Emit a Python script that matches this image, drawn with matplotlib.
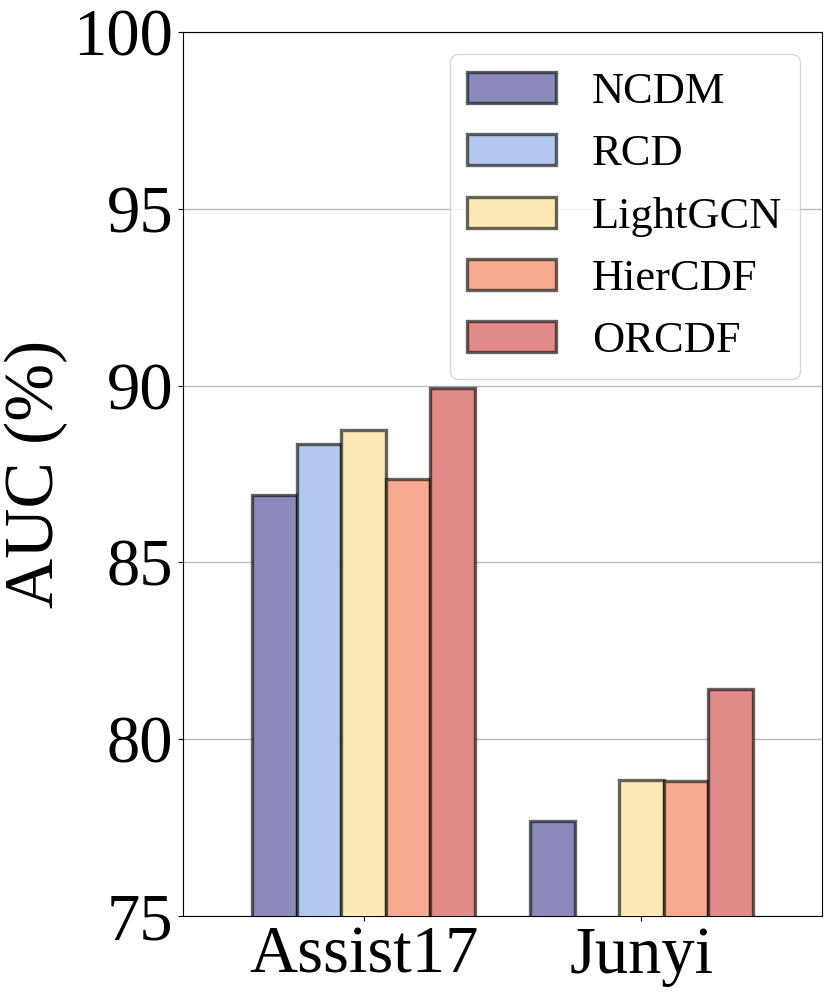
import numpy as np
import matplotlib.pyplot as plt

plt.rcParams['font.family'] = ['Liberation Serif', 'DejaVu Serif']

datasets = ['Assist17', 'Junyi']
models = ['NCDM', 'RCD', 'LightGCN', 'HierCDF', 'ORCDF']
ncdm = [86.91, 77.69]
rcd = [88.35, np.nan]   # no RCD bar visible for Junyi
lightgcn = [88.74, 78.85]
hiercdf = [87.37, 78.82]
orcdf = [89.92, 81.42]
colors = ['#8b89ba', '#b3c8ee', '#fce8b3', '#f7aa8f', '#e08a89']

fig = plt.figure(figsize=(8.3, 9.96), dpi=100)
ax = fig.add_axes([0.2205, 0.0803, 0.7699, 0.8876])

x = np.arange(len(datasets))
w = 0.16
for i, (name, vals) in enumerate(zip(models, [ncdm, rcd, lightgcn, hiercdf, orcdf])):
    ax.bar(x + (i - 2) * w, vals, w, color=colors[i], label=name,
           edgecolor=(0, 0, 0, 0.6), linewidth=2.4, zorder=3)

ax.set_ylim(75, 100)
ax.set_xlim(-0.65, 1.65)
ax.set_yticks([75, 80, 85, 90, 95, 100])
ax.set_xticks(x)
ax.set_xticklabels(datasets)
ax.tick_params(axis='both', labelsize=48)
ax.set_ylabel('AUC (%)', fontsize=50)
ax.yaxis.grid(True, color='#bbbbbb', linewidth=1, zorder=0)
ax.set_axisbelow(True)
ax.legend(loc='upper right', fontsize=32)

plt.savefig('out.png', dpi=100)
